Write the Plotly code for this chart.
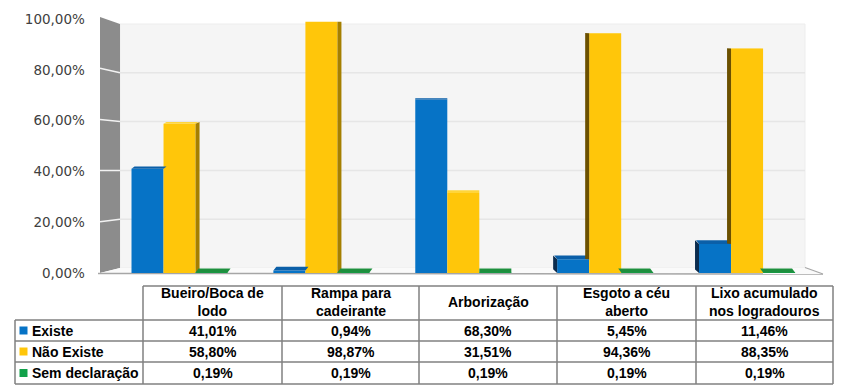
import plotly.graph_objects as go

# ---------------- data ----------------
categories = ["Bueiro/Boca de lodo", "Rampa para cadeirante", "Arborização",
              "Esgoto a céu aberto", "Lixo acumulado nos logradouros"]
header_labels = ["Bueiro/Boca de<br>lodo", "Rampa para<br>cadeirante", "Arborização",
                 "Esgoto a céu<br>aberto", "Lixo acumulado<br>nos logradouros"]
series_names = ["Existe", "Não Existe", "Sem declaração"]
existe = [41.01, 0.94, 68.30, 5.45, 11.46]
nao_existe = [58.80, 98.87, 31.51, 94.36, 88.35]
sem_declaracao = [0.19, 0.19, 0.19, 0.19, 0.19]
y_ticks = [0, 20, 40, 60, 80, 100]

series = [existe, nao_existe, sem_declaracao]
colors = ["#0673C6", "#FFC60A", "#12A14A"]
top_colors = ["#0B5FA8", "#FFD53A", "#1E8F3E"]
right_side_colors = ["#0A4A80", "#A57F00", "#0E6B31"]
left_side_colors = ["#0B2C4E", "#6B5000", "#0B4A22"]


def fmt(v):
    return f"{v:.2f}".replace(".", ",") + "%"


y_tick_text = [fmt(v) for v in y_ticks]

# ---------------- geometry (target pixels of the 855x392 view) ----------------
W, H = 855, 392
OFF = 8  # page body margin offset of the rendered figure
def px(x):
    return (x - OFF) / W
def py(y):
    return 1 - (y - OFF) / H

X_LEFT, X_RIGHT = 108.6, 818.0     # x-axis domain in pixels
Y_ZERO, Y_TOP = 273.0, 19.0        # y-axis domain in pixels
n = len(categories)
cat_px = (X_RIGHT - X_LEFT) / n
bargap = 0.323
group_w = 1 - bargap
bar_w = group_w / len(series)
side_w = 4.0 / cat_px
unit_px = (Y_ZERO - Y_TOP) / 100.0

fig = go.Figure()
for j, (name, vals) in enumerate(zip(series_names, series)):
    fig.add_trace(go.Bar(
        x=list(range(n)), y=vals, name=name,
        width=bar_w, offset=-group_w / 2 + j * bar_w,
        marker=dict(color=colors[j], line=dict(width=0)),
        showlegend=False,
    ))

shapes = []
annotations = []

# ---- walls & floor (decoration) ----
WALL_L, WALL_R = 120, 805
BACK_ZERO, BACK_TOP = 268, 24
FRONT_L = 100
shapes.append(dict(type="rect", xref="paper", yref="paper", layer="below",
                   x0=px(WALL_L), x1=px(WALL_R), y0=py(BACK_ZERO), y1=py(BACK_TOP),
                   fillcolor="#F5F5F5", line=dict(color="#EDEDED", width=1)))
for v in y_ticks[1:-1]:
    yb = BACK_ZERO - (BACK_ZERO - BACK_TOP) * v / 100
    shapes.append(dict(type="line", xref="paper", yref="paper", layer="below",
                       x0=px(WALL_L), x1=px(WALL_R), y0=py(yb), y1=py(yb),
                       line=dict(color="#E6E6E6", width=1.5)))
# side wall
shapes.append(dict(type="path", xref="paper", yref="paper", layer="below",
                   path=f"M{px(FRONT_L)},{py(17)} L{px(WALL_L)},{py(BACK_TOP)} "
                        f"L{px(WALL_L)},{py(BACK_ZERO)} L{px(FRONT_L)},{py(Y_ZERO)} Z",
                   fillcolor="#8C8C8C", line=dict(width=0)))
for v in y_ticks[1:-1]:
    yf = Y_ZERO - (Y_ZERO - 17) * v / 100
    yb = BACK_ZERO - (BACK_ZERO - BACK_TOP) * v / 100
    shapes.append(dict(type="line", xref="paper", yref="paper", layer="below",
                       x0=px(FRONT_L), x1=px(WALL_L), y0=py(yf), y1=py(yb),
                       line=dict(color="#F2F2F2", width=1.5)))
# floor
shapes.append(dict(type="path", xref="paper", yref="paper", layer="below",
                   path=f"M{px(FRONT_L)},{py(Y_ZERO)} L{px(WALL_L)},{py(BACK_ZERO)} "
                        f"L{px(WALL_R)},{py(BACK_ZERO)} L{px(823)},{py(274)} Z",
                   fillcolor="#FAFAFA", line=dict(width=0)))
shapes.append(dict(type="line", xref="paper", yref="paper", layer="below",
                   x0=px(98), x1=px(823), y0=py(273.5), y1=py(274),
                   line=dict(color="#A6A6A6", width=1.5)))
shapes.append(dict(type="line", xref="paper", yref="paper", layer="below",
                   x0=px(WALL_R), x1=px(823), y0=py(BACK_ZERO - 0.5), y1=py(274),
                   line=dict(color="#A6A6A6", width=1.2)))

# ---- 3D faces of the bars, computed from the data ----
center = (n - 1) / 2
for i in range(n):
    s = 1 if i < center else (-1 if i > center else 0)
    for j, vals in enumerate(series):
        v = vals[i]
        x0 = i - group_w / 2 + j * bar_w
        x1 = x0 + bar_w
        t = 4.0 * (1 - v / 100) / unit_px
        dx = s * 3.0 / cat_px
        if t > 0.05:
            shapes.append(dict(type="path", xref="x", yref="y",
                               path=f"M{x0},{v} L{x1},{v} L{x1 + dx},{v + t} L{x0 + dx},{v + t} Z",
                               fillcolor=top_colors[j], line=dict(width=0)))
        if s == 1:
            nb = series[j + 1][i] if j + 1 < len(series) else 0
            lo = min(nb, v)
            if v - lo > 0.3:
                shapes.append(dict(type="path", xref="x", yref="y",
                                   path=f"M{x1},{lo} L{x1 + side_w},{lo + t} L{x1 + side_w},{v + t} L{x1},{v} Z",
                                   fillcolor=right_side_colors[j], line=dict(width=0)))
        elif s == -1:
            nb = series[j - 1][i] if j - 1 >= 0 else 0
            lo = min(nb, v)
            if v - lo > 0.3:
                shapes.append(dict(type="path", xref="x", yref="y",
                                   path=f"M{x0},{lo} L{x0 - side_w},{lo + t} L{x0 - side_w},{v + t} L{x0},{v} Z",
                                   fillcolor=left_side_colors[j], line=dict(width=0)))

# ---- data table below the chart ----
COL_X = [15, 143, 282, 419, 557, 696, 833]
ROW_Y = [286, 320, 341, 362, 384]
TC = "#808080"
tw = 1.5
shapes.append(dict(type="line", xref="paper", yref="paper", x0=px(COL_X[1]), x1=px(COL_X[-1]),
                   y0=py(ROW_Y[0]), y1=py(ROW_Y[0]), line=dict(color=TC, width=tw)))
for yy in ROW_Y[1:]:
    shapes.append(dict(type="line", xref="paper", yref="paper", x0=px(COL_X[0]), x1=px(COL_X[-1]),
                       y0=py(yy), y1=py(yy), line=dict(color=TC, width=tw)))
shapes.append(dict(type="line", xref="paper", yref="paper", x0=px(COL_X[0]), x1=px(COL_X[0]),
                   y0=py(ROW_Y[1]), y1=py(ROW_Y[-1]), line=dict(color=TC, width=tw)))
for xx in COL_X[1:]:
    shapes.append(dict(type="line", xref="paper", yref="paper", x0=px(xx), x1=px(xx),
                       y0=py(ROW_Y[0]), y1=py(ROW_Y[-1]), line=dict(color=TC, width=tw)))

tfont = dict(family="Liberation Sans, Arial, sans-serif", size=14, color="#000000", weight="bold")
for c, lab in enumerate(header_labels):
    xc = (COL_X[c + 1] + COL_X[c + 2]) / 2
    annotations.append(dict(xref="paper", yref="paper", x=px(xc), y=py((ROW_Y[0] + ROW_Y[1]) / 2 - 1),
                            text=lab, showarrow=False, font=tfont, xanchor="center", yanchor="middle"))

for r, (name, vals) in enumerate(zip(series_names, series)):
    yc = (ROW_Y[r + 1] + ROW_Y[r + 2]) / 2
    shapes.append(dict(type="rect", xref="paper", yref="paper",
                       x0=px(19.5), x1=px(27.5), y0=py(yc + 4), y1=py(yc - 4),
                       fillcolor=colors[r], line=dict(width=0)))
    annotations.append(dict(xref="paper", yref="paper", x=px(30), y=py(yc), text=name,
                            showarrow=False, font=tfont, xanchor="left", yanchor="middle"))
    for c, v in enumerate(vals):
        xc = (COL_X[c + 1] + COL_X[c + 2]) / 2
        annotations.append(dict(xref="paper", yref="paper", x=px(xc), y=py(yc), text=fmt(v),
                                showarrow=False, font=tfont, xanchor="center", yanchor="middle"))

fig.update_layout(
    width=W, height=H,
    margin=dict(l=0, r=0, t=0, b=0, pad=0, autoexpand=False),
    paper_bgcolor="white", plot_bgcolor="rgba(0,0,0,0)",
    separators=",.",
    barmode="overlay",
    showlegend=False,
    shapes=shapes, annotations=annotations,
    xaxis=dict(domain=[px(X_LEFT), px(X_RIGHT)], range=[-0.5, n - 0.5], automargin=False,
               showticklabels=False, showgrid=False, zeroline=False, showline=False, ticks=""),
    yaxis=dict(domain=[py(Y_ZERO), py(Y_TOP)], range=[0, 100], automargin=False,
               tickmode="array", tickvals=y_ticks, ticktext=y_tick_text,
               showgrid=False, zeroline=False, showline=False,
               ticks="outside", ticklen=20, tickcolor="rgba(0,0,0,0)",
               tickfont=dict(family="DejaVu Sans, Verdana, sans-serif", size=13.5, color="#404040")),
)

fig.write_html("out.html")
